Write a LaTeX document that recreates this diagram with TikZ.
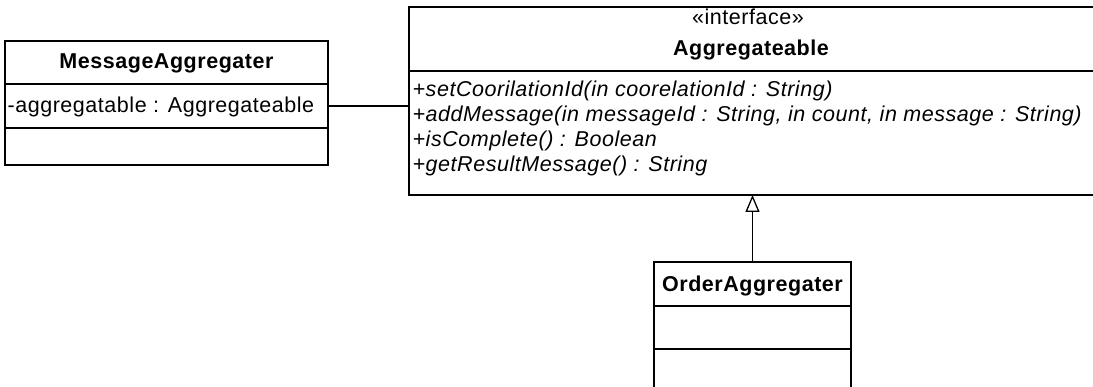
\documentclass[tikz,border=0pt]{standalone}
\usepackage{fontspec}
\setmainfont[LetterSpace=2.5]{Liberation Sans}
\usetikzlibrary{arrows.meta}
\begin{document}
\begin{tikzpicture}[x=1pt,y=1pt,line width=1.3pt,
  comp/.style={draw, rectangle, anchor=north west, inner sep=0pt, outer sep=0pt},
  txt/.style={inner sep=0pt, font=\fontsize{21.5}{26}\selectfont},
  lefttxt/.style={txt, anchor=base west},
  midtxt/.style={txt, anchor=base},
  meth/.style={lefttxt, font=\fontsize{21.5}{26}\selectfont\itshape},
  realize/.style={-{Triangle[open,length=17pt,width=14pt,line width=1.3pt]}}]
\useasboundingbox (0,0) rectangle (1093,387);
\clip (0,0) rectangle (1093,387);
% MessageAggregater
\node[comp, minimum width=323pt, minimum height=43pt] (ma1) at (5,346) {};
\node[comp, minimum width=323pt, minimum height=44pt] (ma2) at (5,303) {};
\node[comp, minimum width=323pt, minimum height=37pt] (ma3) at (5,259) {};
\node[midtxt, font=\fontsize{21.5}{26}\selectfont\bfseries] (maname) at (166.5,318) {MessageAggregater};
\node[lefttxt] (maattr) at (7,274) {-aggregatable : Aggregateable};
% Aggregateable
\node[comp, minimum width=691pt, minimum height=64pt] (ag1) at (409,380) {};
\node[comp, minimum width=691pt, minimum height=124pt] (ag2) at (409,316) {};
\node[midtxt] (agster) at (748,362) {«interface»};
\node[midtxt, font=\fontsize{21.5}{26}\selectfont\bfseries] (agname) at (751,331) {Aggregateable};
\node[meth] (m1) at (412,290) {+setCoorilationId(in coorelationId : String)};
\node[meth] (m2) at (412,265) {+addMessage(in messageId : String, in count, in message : String)};
\node[meth] (m3) at (412,240) {+isComplete() : Boolean};
\node[meth] (m4) at (412,215) {+getResultMessage() : String};
% OrderAggregater
\node[comp, minimum width=197pt, minimum height=44pt] (oa1) at (654,125) {};
\node[comp, minimum width=197pt, minimum height=43pt] (oa2) at (654,81) {};
\node[comp, minimum width=197pt, minimum height=51pt] (oa3) at (654,38) {};
\node[midtxt, font=\fontsize{21.5}{26}\selectfont\bfseries] (oaname) at (752.5,95) {OrderAggregater};
% connectors
\draw (ma2.east) -- (ma2.east -| ag2.west);
\draw[realize] (oa1.north) -- (oa1.north |- ag2.south);
\end{tikzpicture}
\end{document}
